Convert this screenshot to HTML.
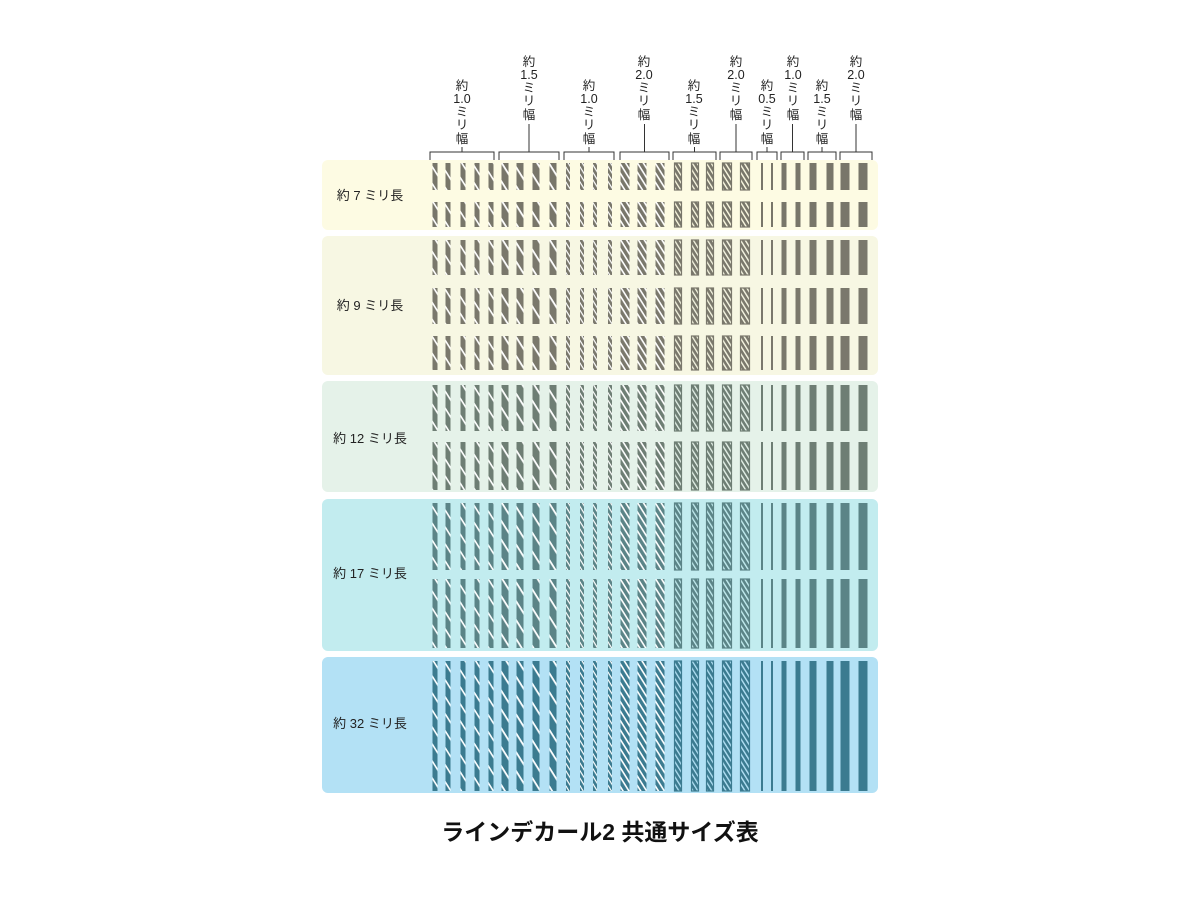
<!DOCTYPE html>
<html><head><meta charset="utf-8"><style>
html,body{margin:0;padding:0;background:#fff;}
svg{display:block;}
text{font-family:"Liberation Sans","Noto Sans CJK JP",sans-serif;}
</style></head><body>
<svg id="s" width="1200" height="900" viewBox="0 0 1200 900" xmlns="http://www.w3.org/2000/svg">
<defs id="d"></defs>
<rect x="322" y="160" width="556" height="70" rx="6" fill="#fdfbe3"/>
<rect x="322" y="236" width="556" height="139" rx="6" fill="#f7f7e3"/>
<rect x="322" y="381" width="556" height="111" rx="6" fill="#e5f2e9"/>
<rect x="322" y="499" width="556" height="152" rx="6" fill="#c2ecef"/>
<rect x="322" y="657" width="556" height="136" rx="6" fill="#b3e1f5"/>
<g font-size="13" fill="#222" text-anchor="middle">
<text x="370" y="200">約 7 ミリ長</text>
<text x="370" y="310">約 9 ミリ長</text>
<text x="370" y="443">約 12 ミリ長</text>
<text x="370" y="578">約 17 ミリ長</text>
<text x="370" y="728">約 32 ミリ長</text>
</g>
<g id="bars"></g>
<text x="600" y="840" font-size="23" font-weight="bold" text-anchor="middle" fill="#111">ラインデカール2 共通サイズ表</text>
<g font-size="12.5" fill="#222" text-anchor="middle">
<text x="462" y="90">約</text><text x="462" y="103">1.0</text><text x="462" y="116">ミ</text><text x="462" y="129">リ</text><text x="462" y="143">幅</text>
<text x="529" y="66">約</text><text x="529" y="79">1.5</text><text x="529" y="92">ミ</text><text x="529" y="105">リ</text><text x="529" y="119">幅</text>
<text x="589" y="90">約</text><text x="589" y="103">1.0</text><text x="589" y="116">ミ</text><text x="589" y="129">リ</text><text x="589" y="143">幅</text>
<text x="644" y="66">約</text><text x="644" y="79">2.0</text><text x="644" y="92">ミ</text><text x="644" y="105">リ</text><text x="644" y="119">幅</text>
<text x="694" y="90">約</text><text x="694" y="103">1.5</text><text x="694" y="116">ミ</text><text x="694" y="129">リ</text><text x="694" y="143">幅</text>
<text x="736" y="66">約</text><text x="736" y="79">2.0</text><text x="736" y="92">ミ</text><text x="736" y="105">リ</text><text x="736" y="119">幅</text>
<text x="767" y="90">約</text><text x="767" y="103">0.5</text><text x="767" y="116">ミ</text><text x="767" y="129">リ</text><text x="767" y="143">幅</text>
<text x="793" y="66">約</text><text x="793" y="79">1.0</text><text x="793" y="92">ミ</text><text x="793" y="105">リ</text><text x="793" y="119">幅</text>
<text x="822" y="90">約</text><text x="822" y="103">1.5</text><text x="822" y="116">ミ</text><text x="822" y="129">リ</text><text x="822" y="143">幅</text>
<text x="856" y="66">約</text><text x="856" y="79">2.0</text><text x="856" y="92">ミ</text><text x="856" y="105">リ</text><text x="856" y="119">幅</text>
</g>
</svg>
<script>
var NS="http://www.w3.org/2000/svg",s=document.getElementById('s'),bars=document.getElementById('bars'),defs=document.getElementById('d');
function el(n,a,p){var e=document.createElementNS(NS,n);for(var k in a)e.setAttribute(k,a[k]);(p||bars).appendChild(e);return e;}
var groups=[
{xs:[435,448,463,477,491],w:5,t:'h',p:9,sw:1.6,r:[430,494],lab:147},
{xs:[505,520,536,553],w:7,t:'h',p:10,sw:1.8,r:[499,559],lab:124},
{xs:[568,582,595,610],w:4,t:'h',p:4,sw:1.2,r:[564,614],lab:147},
{xs:[625,642,660],w:9,t:'h',p:5,sw:1.6,r:[620,669],lab:124},
{xs:[678,695,710],w:7,t:'o',p:4,sw:1.3,r:[673,716],lab:147},
{xs:[727,745],w:9,t:'o',p:4,sw:1.4,r:[720,752],lab:124},
{xs:[762,772],w:2,t:'s',r:[757,777],lab:147},
{xs:[784,798],w:5,t:'s',r:[781,804],lab:124},
{xs:[813,830],w:7,t:'s',r:[808,836],lab:147},
{xs:[845,863],w:9,t:'s',r:[840,872],lab:124}];
var bands=[
{c:'#78766a',bg:'#fdfbe3',rows:[[163,190],[202,227]]},
{c:'#7a786c',bg:'#f7f7e3',rows:[[240,275],[288,324],[336,370]]},
{c:'#6e7e74',bg:'#e5f2e9',rows:[[385,431],[442,490]]},
{c:'#5b8487',bg:'#c2ecef',rows:[[503,570],[579,648]]},
{c:'#3b7b90',bg:'#b3e1f5',rows:[[661,791]]}];
var pid=0;
bands.forEach(function(b){
 groups.forEach(function(g){
  var pat=null;
  if(g.t!='s'){
   pid++;pat='p'+pid;
   var P=el('pattern',{id:pat,patternUnits:'userSpaceOnUse',width:g.p,height:g.p,patternTransform:'rotate(58)'},defs);
   el('rect',{x:0,y:0,width:g.p,height:g.p,fill:g.t=='o'?b.bg:b.c},P);
   el('rect',{x:0,y:0,width:g.p,height:g.t=='o'?g.p-g.sw:g.sw,fill:g.t=='o'?b.c:'#fff'},P);
  }
  b.rows.forEach(function(r){
   g.xs.forEach(function(x){
    var a={x:x-g.w/2,y:r[0],width:g.w,height:r[1]-r[0],fill:pat?'url(#'+pat+')':b.c};
    if(g.t=='o'){a.stroke=b.c;a['stroke-width']=1.2;}
    el('rect',a);
   });
  });
 });
});
groups.forEach(function(g){
 var L=g.r[0],R=g.r[1],m=(L+R)/2;
 el('path',{d:'M'+L+' 160V152H'+R+'V160M'+m+' 152V'+g.lab,fill:'none',stroke:'#333','stroke-width':1});
});
</script>
</body></html>
